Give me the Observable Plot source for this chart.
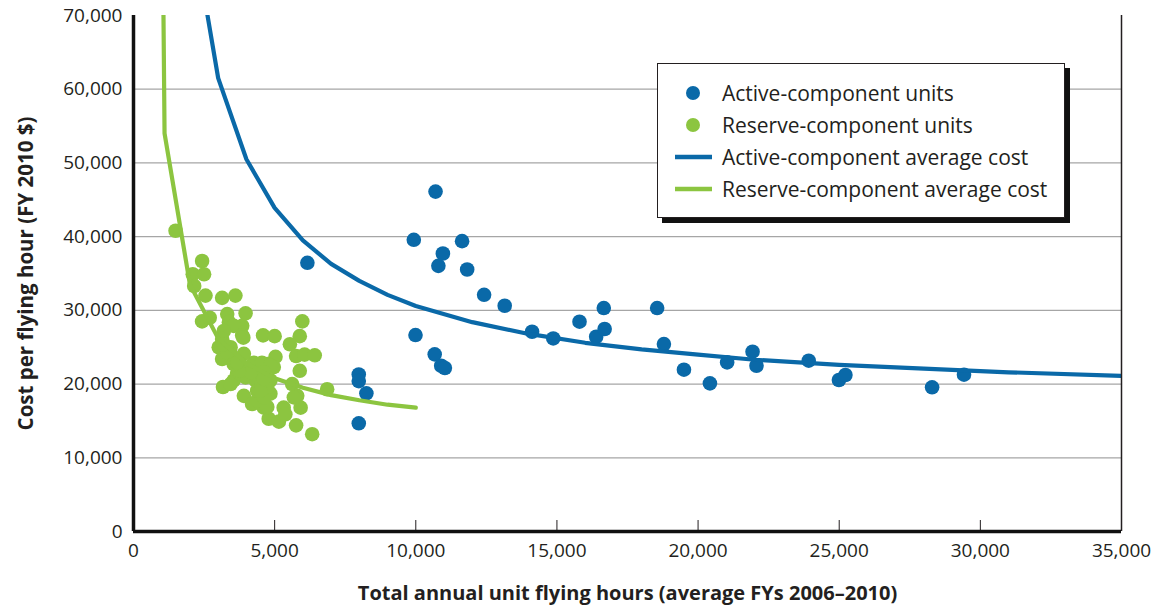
<!DOCTYPE html>
<html>
<head>
<meta charset="utf-8">
<script src="https://cdn.jsdelivr.net/npm/d3@7"></script>
<script src="https://cdn.jsdelivr.net/npm/@observablehq/plot@0.6"></script>
<style>
  html, body { margin: 0; padding: 0; background: #fff; }
  #wrap { position: relative; width: 1157px; height: 612px; font-family: "Open Sans", "Noto Sans", sans-serif; }
  #legend { position: absolute; left: 657px; top: 63px; width: 408px; height: 155px; box-sizing: border-box;
            border: 1px solid #231f20; background: #fff; box-shadow: 5px 5px 0 #111; }
  .row { position: absolute; left: 0; height: 32px; display: flex; align-items: center; font-size: 21px; color: #231f20; }
  .row svg { width: 64px; height: 32px; flex: none; }
</style>
</head>
<body>
<div id="wrap"><div id="chart"></div><div id="legend"></div></div>
<script>
// ---- Data ----
const activeHours = [6160, 7980, 7980, 8250, 7980, 9930, 10700, 10960, 10800, 11640, 11820, 12420, 13150,
  9990, 10670, 10900, 11030, 14120, 14870, 15800, 16660, 16390, 16690, 18550, 18790, 19500, 20420,
  21030, 21930, 22070, 23920, 24990, 25220, 28290, 29420];
const activeCost = [36450, 21300, 20400, 18740, 14680, 39570, 46110, 37710, 36040, 39390, 35540, 32110, 30620,
  26650, 24030, 22490, 22180, 27100, 26190, 28460, 30310, 26420, 27470, 30310, 25430, 21950, 20100,
  22940, 24390, 22490, 23170, 20550, 21230, 19560, 21270];

const reserveHours = [1490, 2100, 2150, 2430, 2500, 2550, 2430, 2700, 3140, 3610, 3320, 3970, 3380, 3850, 3550,
  3850, 3890, 3200, 3140, 3020, 3440, 3140, 3440, 3320, 3200, 4590, 5000, 5980, 5890, 5540, 5030, 5760,
  6060, 6420, 5890, 6860, 5620, 5800, 5920, 5320, 5760, 6330, 3170, 3910, 4200, 4620, 4790, 5150, 5380,
  4380, 4740, 4970, 4740, 4440, 4260, 4550, 4850, 3910, 3790, 3670, 3970, 3970, 3550, 3440, 4320, 4380,
  4620, 4850, 4550, 4850, 4620, 4150, 3730, 3550, 3670, 4620, 4740, 4500, 4620, 5680];
const reserveCost = [40800, 34900, 33300, 36700, 34900, 32000, 28500, 29000, 31700, 32000, 29500, 29600, 28400,
  27900, 27900, 26600, 26300, 27200, 26100, 25000, 25000, 23400, 24100, 24300, 25400, 26600, 26500, 28500,
  26500, 25400, 23700, 23800, 24000, 23900, 21800, 19300, 20000, 18400, 16800, 16800, 14400, 13200, 19600,
  18400, 17300, 16800, 15300, 14900, 15900, 17800, 16900, 22300, 22700, 22300, 22900, 22900, 22500, 24100,
  22700, 21400, 20900, 21800, 20500, 20000, 20500, 19100, 19100, 18700, 20000, 20500, 21600, 21600, 21800,
  22700, 22900, 18200, 19600, 19100, 20700, 18200];

const activeAvgHours = [2000, 3000, 4000, 5000, 6000, 7000, 8000, 9000, 10000, 12000, 14000, 16000, 18000,
  20000, 22000, 25000, 28000, 31000, 35000];
const activeAvgCost = [84000, 61500, 50500, 43900, 39500, 36300, 34000, 32100, 30600, 28400, 26800, 25600,
  24700, 24000, 23300, 22600, 22100, 21600, 21100];

const reserveAvgHours = [1050, 1100, 2000, 3000, 4000, 5000, 6000, 7000, 8000, 9000, 10000];
const reserveAvgCost = [75000, 54000, 33500, 26200, 22800, 20800, 19500, 18500, 17800, 17200, 16800];

const xTicks = [0, 5000, 10000, 15000, 20000, 25000, 30000, 35000];
const yTicks = [0, 10000, 20000, 30000, 40000, 50000, 60000, 70000];
const gridValues = [10000, 20000, 30000, 40000, 50000, 60000];

const xLabel = "Total annual unit flying hours (average FYs 2006–2010)";
const yLabel = "Cost per flying hour (FY 2010 $)";

const legendItems = [
  {label: "Active-component units", kind: "dot", color: "#0a69a8"},
  {label: "Reserve-component units", kind: "dot", color: "#8cc540"},
  {label: "Active-component average cost", kind: "line", color: "#0a69a8"},
  {label: "Reserve-component average cost", kind: "line", color: "#8cc540"}
];

const BLUE = "#0a69a8", GREEN = "#8cc540";
const active = activeHours.map((h, i) => ({h, c: activeCost[i]}));
const reserve = reserveHours.map((h, i) => ({h, c: reserveCost[i]}));
const activeAvg = activeAvgHours.map((h, i) => ({h, c: activeAvgCost[i]}));
const reserveAvg = reserveAvgHours.map((h, i) => ({h, c: reserveAvgCost[i]}));
const fmt = d3.format(",");

const chart = Plot.plot({
  width: 1157, height: 612,
  marginTop: 15, marginRight: 36, marginBottom: 81, marginLeft: 133,
  style: {fontFamily: '"Open Sans", "Noto Sans", sans-serif', fontSize: "18px", color: "#231f20", background: "#fff"},
  x: {domain: [0, 35000], label: null},
  y: {domain: [0, 70000], label: null},
  marks: [
    Plot.ruleY(gridValues, {stroke: "#a6a6a6", strokeWidth: 1.2}),
    Plot.axisY(yTicks, {tickSize: 0, tickPadding: 11, tickFormat: fmt, fontSize: 19, fill: "#231f20"}),
    Plot.axisX(xTicks, {tickSize: 0, tickPadding: 12, tickFormat: fmt, fontSize: 19, fill: "#231f20"}),
    Plot.ruleX(xTicks.slice(1, -1), {y1: 0, y2: 0, insetTop: -11, stroke: "#231f20", strokeWidth: 1}),
    Plot.dot(reserve, {x: "h", y: "c", r: 7.3, fill: GREEN, stroke: null}),
    Plot.dot(active, {x: "h", y: "c", r: 7.3, fill: BLUE, stroke: null}),
    Plot.line(activeAvg, {x: "h", y: "c", stroke: BLUE, strokeWidth: 4.2, clip: true, strokeLinejoin: "round"}),
    Plot.line(reserveAvg, {x: "h", y: "c", stroke: GREEN, strokeWidth: 4.2, clip: true, strokeLinejoin: "round"}),
    Plot.ruleX([35000], {stroke: "#231f20", strokeWidth: 1.5}),
    Plot.ruleX([0], {stroke: "#111", strokeWidth: 3.5}),
    Plot.ruleY([0], {stroke: "#111", strokeWidth: 3.5}),
    Plot.text([xLabel], {frameAnchor: "bottom", textAnchor: "middle", dy: 68, fontWeight: "bold", fontSize: 20, fill: "#231f20"}),
    Plot.text([yLabel], {frameAnchor: "left", textAnchor: "middle", rotate: -90, dx: -107, fontWeight: "bold", fontSize: 20.5, fill: "#231f20"})
  ]
});
document.getElementById("chart").appendChild(chart);

const legend = document.getElementById("legend");
legendItems.forEach((it, i) => {
  const row = document.createElement("div");
  row.className = "row";
  row.style.top = (13 + i * 32) + "px";
  const icon = it.kind === "dot"
    ? `<svg viewBox="0 0 64 32"><circle cx="35" cy="16" r="7" fill="${it.color}"/></svg>`
    : `<svg viewBox="0 0 64 32"><line x1="17" x2="54" y1="16" y2="16" stroke="${it.color}" stroke-width="4.5"/></svg>`;
  row.innerHTML = icon + `<span>${it.label}</span>`;
  legend.appendChild(row);
});
</script>
</body>
</html>
